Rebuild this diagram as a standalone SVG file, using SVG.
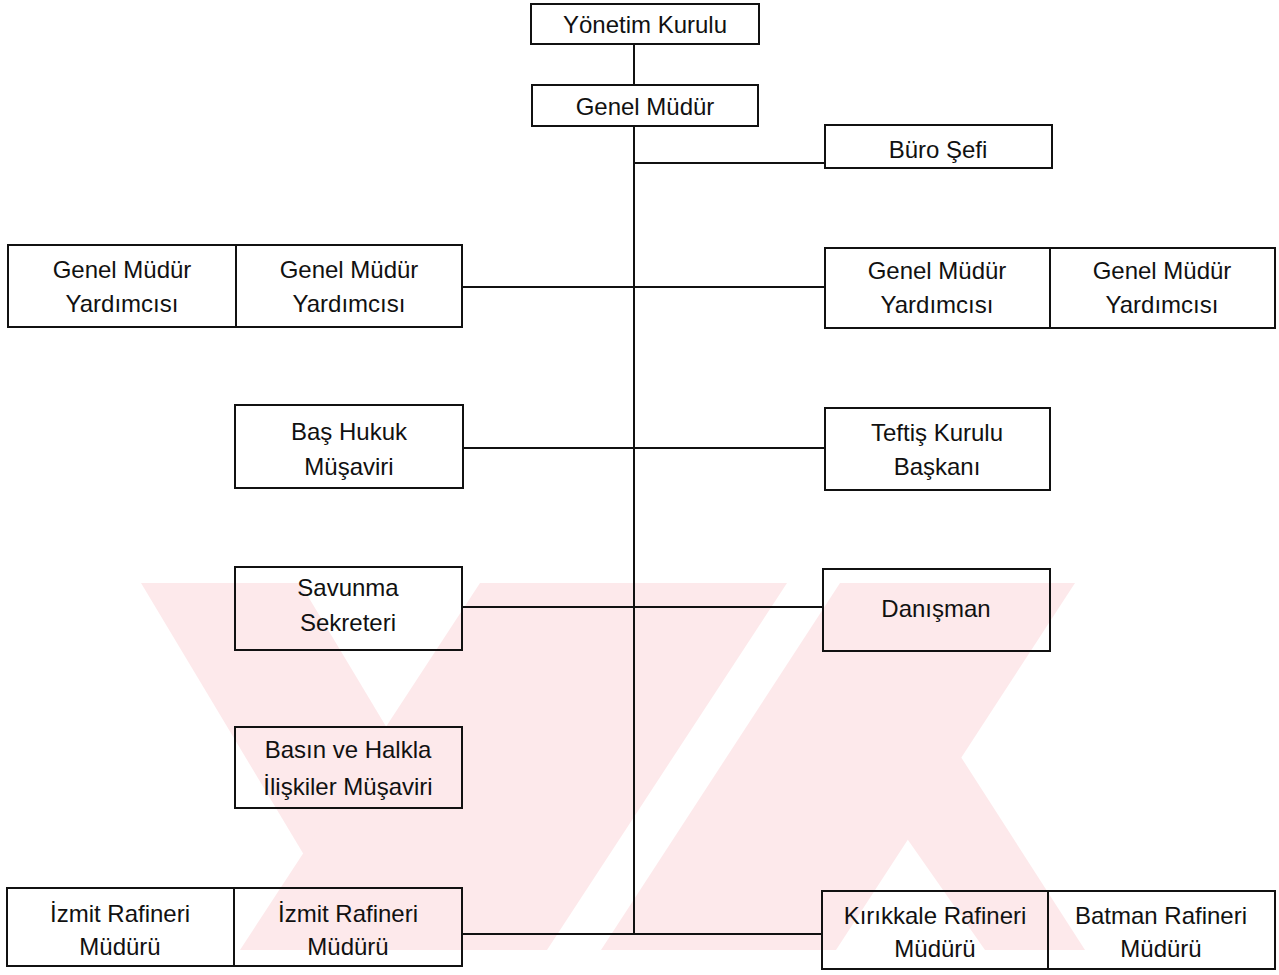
<svg xmlns="http://www.w3.org/2000/svg" width="1279" height="975" viewBox="0 0 1279 975">
<style>
.box{fill:none;stroke:#111;stroke-width:2}
.wm{fill:#fde9eb;stroke:none}
.ln{stroke:#111;stroke-width:2;fill:none}
text{font-family:"Liberation Sans",Arial,sans-serif;font-size:24px;fill:#111;text-anchor:middle}
</style>
<rect width="1279" height="975" fill="#fff"/>
<g id="watermark">
<polygon class="wm" points="141,583 300,583 520,950 361,950"/>
<polygon class="wm" points="480,583 787,583 547,950 240,950"/>
<polygon class="wm" points="840,583 1075,583 836,950 601,950"/>
<polygon class="wm" points="880,800 950,740 1085,950 985,950"/>
</g>
<g id="connectors">
<path class="ln" d="M634,44 V85 M634,126 V935 M634,163 H825 M462,287 H825 M463,448 H825 M462,607 H823 M462,934 H822"/>
</g>
<g id="yonetim-kurulu"><rect class="box" x="531" y="4" width="228" height="40"/><text x="645" y="33">Yönetim Kurulu</text></g>
<g id="genel-mudur"><rect class="box" x="532" y="85" width="226" height="41"/><text x="645" y="115">Genel Müdür</text></g>
<g id="buro-sefi"><rect class="box" x="825" y="125" width="227" height="43"/><text x="938" y="158">Büro Şefi</text></g>
<g id="gmy-1"><rect class="box" x="8" y="245" width="228" height="82"/><text x="122" y="278">Genel Müdür</text><text x="122" y="312">Yardımcısı</text></g>
<g id="gmy-2"><rect class="box" x="236" y="245" width="226" height="82"/><text x="349" y="278">Genel Müdür</text><text x="349" y="312">Yardımcısı</text></g>
<g id="gmy-3"><rect class="box" x="825" y="248" width="225" height="80"/><text x="937" y="279">Genel Müdür</text><text x="937" y="313">Yardımcısı</text></g>
<g id="gmy-4"><rect class="box" x="1050" y="248" width="225" height="80"/><text x="1162" y="279">Genel Müdür</text><text x="1162" y="313">Yardımcısı</text></g>
<g id="bas-hukuk"><rect class="box" x="235" y="405" width="228" height="83"/><text x="349" y="440">Baş Hukuk</text><text x="349" y="475">Müşaviri</text></g>
<g id="teftis"><rect class="box" x="825" y="408" width="225" height="82"/><text x="937" y="441">Teftiş Kurulu</text><text x="937" y="475">Başkanı</text></g>
<g id="savunma"><rect class="box" x="235" y="567" width="227" height="83"/><text x="348" y="596">Savunma</text><text x="348" y="631">Sekreteri</text></g>
<g id="danisman"><rect class="box" x="823" y="569" width="227" height="82"/><text x="936" y="617">Danışman</text></g>
<g id="basin"><rect class="box" x="235" y="727" width="227" height="81"/><text x="348" y="758">Basın ve Halkla</text><text x="348" y="795">İlişkiler Müşaviri</text></g>
<g id="izmit-1"><rect class="box" x="7" y="888" width="227" height="78"/><text x="120" y="922">İzmit Rafineri</text><text x="120" y="955">Müdürü</text></g>
<g id="izmit-2"><rect class="box" x="234" y="888" width="228" height="78"/><text x="348" y="922">İzmit Rafineri</text><text x="348" y="955">Müdürü</text></g>
<g id="kirikkale"><rect class="box" x="822" y="891" width="226" height="78"/><text x="935" y="924">Kırıkkale Rafineri</text><text x="935" y="957">Müdürü</text></g>
<g id="batman"><rect class="box" x="1048" y="891" width="227" height="78"/><text x="1161" y="924">Batman Rafineri</text><text x="1161" y="957">Müdürü</text></g>
</svg>
